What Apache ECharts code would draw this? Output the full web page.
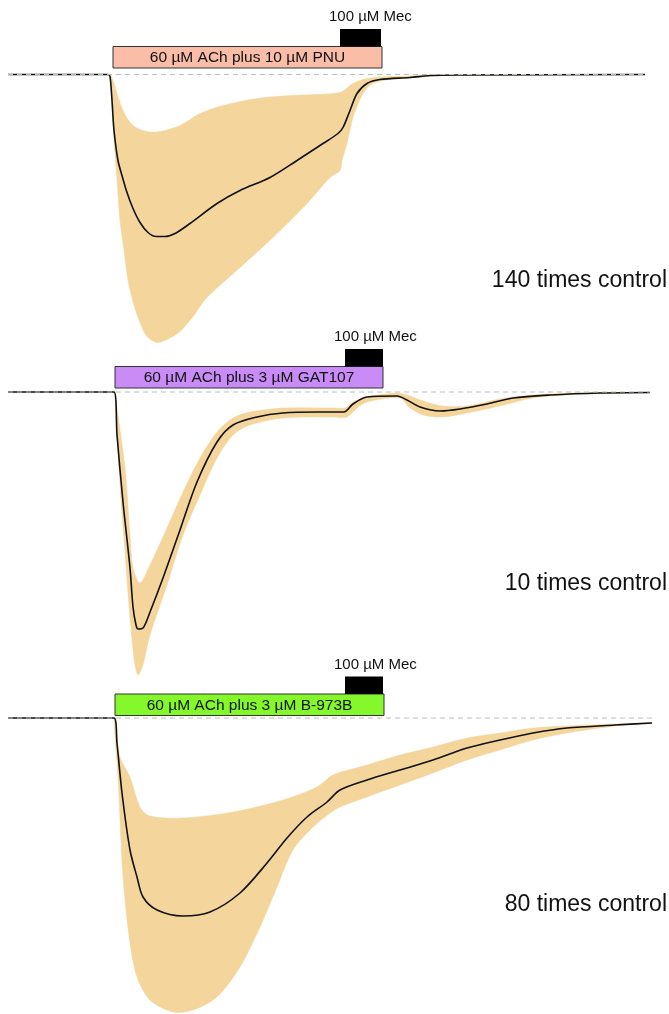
<!DOCTYPE html>
<html>
<head>
<meta charset="utf-8">
<script src="https://cdn.jsdelivr.net/npm/echarts@6.0.0/dist/echarts.min.js"></script>
<style>
  html, body { margin: 0; padding: 0; background: #fff; }
  #chart { width: 669px; height: 1014px; }
</style>
</head>
<body>
<div id="chart"></div>
<script>
// Averaged current traces (mean and ± band) for three drug applications.
// Time in s from start of sweep, current in normalized units (inward = negative).
// Band edges start at the response onset, where both edges meet the baseline.

// --- Panel 1: ACh + PNU ---
const mean1 = [[0,0],[100,0],[102,-2],[104,-26],[106,-56],[110,-86],[114,-101],[119,-118],[125,-134],[132,-148],[140,-158],[148,-162],[157,-162],[167,-159],[182,-149],[209,-129],[232,-116],[262,-103],[289,-86],[315,-69],[330,-59],[335,-53],[342,-36],[349,-19],[359,-9],[372,-5],[402,-3],[422,-1],[452,-0.5],[637,0]];
const hi1 = [[102,0],[105,-6],[115,-36],[125,-51],[139,-57],[152,-57],[172,-51],[192,-39],[215,-31],[249,-24],[282,-21],[332,-18],[345,-9],[359,-4],[382,-2],[422,-1],[452,-0.5],[637,0]];
const lo1 = [[102,0],[104,-26],[106,-66],[109,-106],[112,-146],[116,-176],[120,-206],[126,-231],[132,-248],[139,-262],[149,-268],[159,-265],[172,-257],[185,-242],[199,-223],[232,-193],[265,-163],[299,-129],[322,-103],[332,-96],[334,-86],[339,-69],[345,-43],[355,-19],[365,-9],[382,-5],[422,-2],[452,-1],[637,0]];

// --- Panel 2: ACh + GAT107 ---
const mean2 = [[0,0],[106,0],[109,-43],[115,-110],[122,-176],[125,-215],[128,-233],[130,-237],[135,-236],[142,-220],[155,-186],[172,-138],[189,-90],[209,-50],[225,-33],[249,-25],[275,-21],[309,-20],[336,-20],[345,-12],[359,-5],[389,-4],[399,-8],[412,-15],[432,-19],[452,-17],[479,-12],[505,-6],[542,-3],[592,-1],[642,-0.5]];
const hi2 = [[106,0],[107,-3],[117,-76],[122,-143],[125,-176],[132,-191],[142,-173],[159,-136],[175,-100],[192,-66],[209,-40],[225,-26],[242,-20],[275,-16],[325,-16],[337,-16],[345,-10],[359,-5],[389,-1],[399,-3],[415,-9],[435,-14],[459,-14],[492,-7],[525,-3],[572,-1],[642,-0.5]];
const lo2 = [[106,0],[107,-3],[112,-93],[117,-160],[122,-226],[127,-273],[130,-283],[135,-273],[142,-243],[159,-193],[175,-143],[192,-103],[209,-66],[225,-43],[242,-33],[275,-26],[325,-25],[339,-25],[349,-16],[359,-10],[392,-6],[402,-16],[415,-23],[435,-25],[459,-21],[492,-14],[525,-6],[572,-2],[642,-0.5]];

// --- Panel 3: ACh + B-973B ---
const mean3 = [[0,0],[106,0],[109,-25],[114,-75],[122,-132],[129,-159],[135,-179],[149,-192],[175,-198],[202,-194],[232,-175],[259,-145],[279,-120],[299,-99],[319,-84],[332,-72],[359,-62],[392,-52],[425,-42],[459,-30],[492,-22],[525,-15],[559,-10],[607,-7],[644,-5]];
const hi3 = [[106,0],[112,-39],[122,-59],[132,-89],[142,-98],[175,-100],[225,-94],[275,-82],[309,-69],[325,-57],[359,-47],[392,-37],[425,-29],[459,-20],[492,-15],[525,-10],[559,-8],[607,-6],[644,-4.5]];
const lo3 = [[106,0],[110,-59],[115,-159],[122,-225],[129,-259],[142,-282],[165,-294],[185,-292],[209,-279],[232,-249],[252,-209],[269,-169],[285,-132],[305,-109],[322,-95],[332,-89],[359,-79],[392,-67],[425,-55],[459,-42],[492,-32],[525,-22],[559,-15],[607,-8],[644,-4.5]];

// Drug application windows (s) and labels
const appLabels = ['60 µM ACh plus 10 µM PNU', '60 µM ACh plus 3 µM GAT107', '60 µM ACh plus 3 µM B-973B'];
const appWindows = [[105, 374], [107, 375], [107, 376]];
const mecLabel = '100 µM Mec';
const mecWindows = [[332, 373], [337, 375], [337, 375]];
const foldLabels = ['140 times control', '10 times control', '80 times control'];

// Styling and layout
const BAND_COLOR = '#f4d59c';
const APP_COLORS = ['#f9bda8', '#c98cf6', '#84f82a'];
const FONT = '"Liberation Sans", Arial, Helvetica, sans-serif';
const layout = [
  { top: 14.5, yMin: -280, yMax: 60, barGap: 6.5, labelY: 282 },
  { top: 332, yMin: -300, yMax: 60, barGap: 4, labelY: 585 },
  { top: 658, yMin: -296, yMax: 60, barGap: 2.5, labelY: 906 }
];
const traces = [[mean1, hi1, lo1], [mean2, hi2, lo2], [mean3, hi3, lo3]];

const chart = echarts.init(document.getElementById('chart'), null, { renderer: 'canvas' });

const grid = [], xAxis = [], yAxis = [], series = [], graphic = [];

layout.forEach((L, i) => {
  grid.push({ left: 8, width: 650, top: L.top, height: L.yMax - L.yMin });
  xAxis.push({ type: 'value', gridIndex: i, min: 0, max: 650, show: false });
  yAxis.push({ type: 'value', gridIndex: i, min: L.yMin, max: L.yMax, show: false });

  const [mean, hi, lo] = traces[i];

  // shaded band: upper edge forward, lower edge back (shared end points listed once)
  series.push({
    type: 'custom', xAxisIndex: i, yAxisIndex: i, silent: true, z: 1,
    data: [0],
    renderItem: (params, api) => {
      const top = hi.map(p => api.coord(p));
      const bottom = lo.slice(1, -1).reverse().map(p => api.coord(p));
      return {
        type: 'polygon',
        shape: { points: top.concat(bottom), smooth: 0.3 },
        style: { fill: BAND_COLOR, stroke: BAND_COLOR, lineWidth: 0.5 }
      };
    }
  });

  // mean trace
  series.push({
    type: 'line', xAxisIndex: i, yAxisIndex: i, data: mean, z: 3,
    showSymbol: false, smooth: 0.3, silent: true,
    lineStyle: { color: '#111', width: 1.6 }
  });

  // zero-current reference line
  series.push({
    type: 'line', xAxisIndex: i, yAxisIndex: i, z: 4, silent: true, showSymbol: false,
    data: [[mean[0][0], 0], [mean[mean.length - 1][0], 0]],
    lineStyle: { color: '#bdbdbd', width: 1.2, type: [5, 4] }
  });

  // application bars
  series.push({
    type: 'custom', xAxisIndex: i, yAxisIndex: i, silent: true, z: 5,
    data: [[appWindows[i][0], appWindows[i][1], mecWindows[i][0], mecWindows[i][1]]],
    renderItem: (params, api) => {
      const a0 = api.coord([api.value(0), 0]);
      const a1 = api.coord([api.value(1), 0]);
      const m0 = api.coord([api.value(2), 0]);
      const m1 = api.coord([api.value(3), 0]);
      const appBottom = a0[1] - L.barGap;
      const appTop = appBottom - 21.5;
      const mecTop = appTop - 17.5;
      return {
        type: 'group',
        children: [
          { type: 'rect', shape: { x: a0[0], y: appTop, width: a1[0] - a0[0], height: 21.5 },
            style: { fill: APP_COLORS[i], stroke: '#333', lineWidth: 1 } },
          { type: 'text', style: { text: appLabels[i], x: (a0[0] + a1[0]) / 2, y: (appTop + appBottom) / 2 + 0.5,
            align: 'center', verticalAlign: 'middle', font: '15.5px ' + FONT, fill: '#111' } },
          { type: 'rect', shape: { x: m0[0], y: mecTop, width: m1[0] - m0[0], height: 17.5 },
            style: { fill: '#000' } },
          { type: 'text', style: { text: mecLabel, x: m0[0] - 11, y: mecTop - 12,
            align: 'left', verticalAlign: 'middle', font: '15px ' + FONT, fill: '#111' } }
        ]
      };
    }
  });

  graphic.push({
    type: 'text', right: 2, top: L.labelY - 13, silent: true,
    style: { text: foldLabels[i], font: '23px ' + FONT, fill: '#111' }
  });
});

chart.setOption({
  animation: false,
  backgroundColor: '#fff',
  grid, xAxis, yAxis, series, graphic
});
</script>
</body>
</html>
